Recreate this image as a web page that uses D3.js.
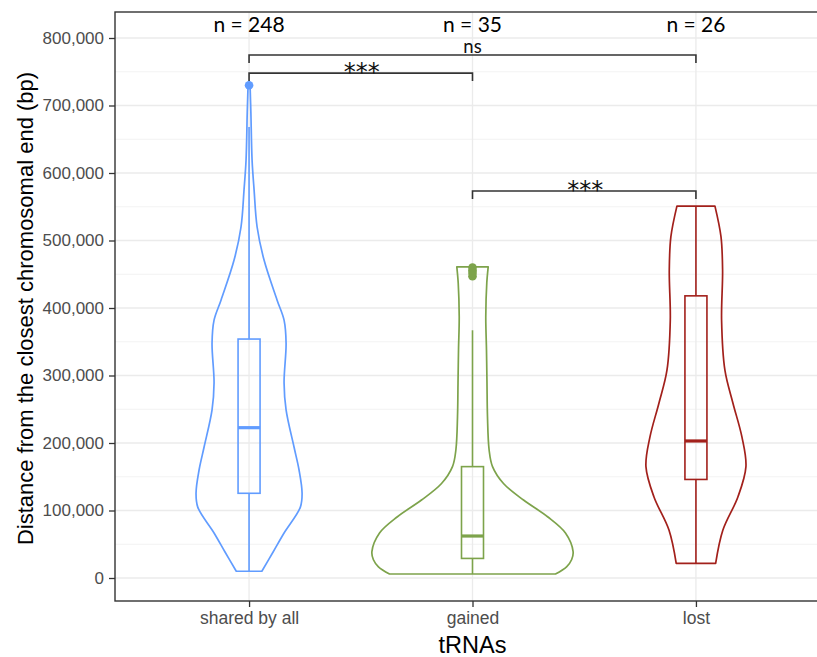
<!DOCTYPE html>
<html><head><meta charset="utf-8">
<script src="https://cdn.jsdelivr.net/npm/d3@7"></script>
<style>body{margin:0;background:#fff}svg{display:block}</style>
</head><body>
<svg id="c" width="817" height="657"></svg>
<script>
const categories = ["shared by all", "gained", "lost"];
const colors = ["#619CFF", "#7DA34B", "#A2201B"];
const nLabels = ["n = 248", "n = 35", "n = 26"];
const yTicks = [0, 100000, 200000, 300000, 400000, 500000, 600000, 700000, 800000];

// violin outlines: [value, relative density]
const densShared = [[10000,0.127],[38500,0.239],[66700,0.348],[105000,0.51],[126000,0.527],[160000,0.497],[194000,0.447],[249000,0.368],[289000,0.348],[348000,0.368],[382000,0.348],[412000,0.278],[471000,0.149],[520000,0.08],[575000,0.05],[619000,0.03],[690000,0.018],[730000,0.01]];
const densGained = [[5900,0.825],[16600,0.935],[27000,0.985],[39000,1.0],[66700,0.924],[90800,0.746],[115500,0.507],[140000,0.308],[165000,0.199],[190000,0.165],[239000,0.149],[289000,0.144],[338000,0.139],[387000,0.132],[437000,0.142],[461000,0.156]];
const densLost = [[21700,0.196],[71000,0.268],[120000,0.417],[165000,0.497],[209000,0.457],[259000,0.368],[308000,0.288],[382000,0.255],[456000,0.265],[505600,0.249],[551000,0.189]];
const densities = [densShared, densGained, densLost];

// box stats: [lowerWhisker, q1, median, q3, upperWhisker]
const boxShared = [10000, 125500, 222700, 354000, 668000];
const boxGained = [5900, 29000, 62200, 165000, 367000];
const boxLost = [21700, 146000, 203000, 418000, 551000];
const boxes = [boxShared, boxGained, boxLost];

const outShared = [730000];
const outGained = [447000, 452000, 456000, 460000];
const outLost = [];
const outliers = [outShared, outGained, outLost];

// significance brackets
const bracketFrom = [0, 0, 1];
const bracketTo = [1, 2, 2];
const bracketY = [748000, 774800, 573300];
const bracketLabels = ["***", "ns", "***"];
const nLabelY = 819000;

const svg = d3.select("#c");
const L = 115, R = 830, T = 12, B = 601;
const x = d3.scalePoint().domain(categories).range([L, R]).padding(0.6);
const y = d3.scaleLinear().domain([0, 800000]).range([578, 38]);
const w = d3.scaleLinear().domain([0, 1]).range([0, 100.6]);
const sans = "'Liberation Sans', Arial, sans-serif";

svg.append("rect").attr("x",0).attr("y",0).attr("width",817).attr("height",657).attr("fill","#fff");

const g = svg.append("g");
const minor = d3.range(-50000, 850000, 100000).filter(v => y(v) > T && y(v) < B);
g.selectAll(".mn").data(minor).join("line")
  .attr("x1", L).attr("x2", R).attr("y1", d=>y(d)).attr("y2", d=>y(d))
  .attr("stroke", "#f0f0f0").attr("stroke-width", 0.8);
g.selectAll(".mj").data(yTicks).join("line")
  .attr("x1", L).attr("x2", R).attr("y1", d=>y(d)).attr("y2", d=>y(d))
  .attr("stroke", "#ebebeb").attr("stroke-width", 1.3);
g.selectAll(".vx").data(categories).join("line")
  .attr("x1", d=>x(d)).attr("x2", d=>x(d)).attr("y1", T).attr("y2", B)
  .attr("stroke", "#ebebeb").attr("stroke-width", 1.3);

const area = d3.area().y(d => y(d[0])).curve(d3.curveCatmullRom.alpha(0.5));
categories.forEach((c, i) => {
  const cx = x(c);
  g.append("path")
    .attr("d", area.x0(d => cx - w(d[1])).x1(d => cx + w(d[1]))(densities[i]))
    .attr("fill", "none").attr("stroke", colors[i]).attr("stroke-width", 1.7)
    .attr("stroke-linejoin", "round");
  const b = boxes[i];
  const hw = 11;
  g.append("line").attr("x1", cx).attr("x2", cx).attr("y1", y(b[0])).attr("y2", y(b[1]))
    .attr("stroke", colors[i]).attr("stroke-width", 1.6);
  g.append("line").attr("x1", cx).attr("x2", cx).attr("y1", y(b[3])).attr("y2", y(b[4]))
    .attr("stroke", colors[i]).attr("stroke-width", 1.6);
  g.append("rect").attr("x", cx - hw).attr("width", 2*hw).attr("y", y(b[3])).attr("height", y(b[1]) - y(b[3]))
    .attr("fill", "none").attr("stroke", colors[i]).attr("stroke-width", 1.6);
  g.append("line").attr("x1", cx - hw).attr("x2", cx + hw).attr("y1", y(b[2])).attr("y2", y(b[2]))
    .attr("stroke", colors[i]).attr("stroke-width", 3.2);
  g.selectAll(null).data(outliers[i]).join("circle")
    .attr("cx", cx).attr("cy", d => y(d)).attr("r", 4.3).attr("fill", colors[i]);
});

const bf = "Lato, 'Open Sans', sans-serif";
bracketLabels.forEach((lab, i) => {
  const x1 = x(categories[bracketFrom[i]]), x2 = x(categories[bracketTo[i]]);
  const yy = y(bracketY[i]);
  g.append("path").attr("d", `M${x1},${yy+8}V${yy}H${x2}V${yy+8}`)
    .attr("fill", "none").attr("stroke", "#333").attr("stroke-width", 1.6);
  const mid = (x1 + x2) / 2;
  if (lab === "ns") {
    g.append("text").attr("x", mid).attr("y", yy - 2.5).attr("text-anchor", "middle")
      .attr("font-family", bf).attr("font-size", 18.5).attr("fill", "#111").text(lab);
  } else {
    g.append("text").attr("x", mid + 1).attr("y", yy + 6.5).attr("text-anchor", "middle")
      .attr("font-family", "'DejaVu Sans', sans-serif").attr("font-size", 24)
      .attr("fill", "#111").text(lab);
  }
});

g.selectAll(".nl").data(categories).join("text")
  .attr("x", d => x(d)).attr("y", y(nLabelY) + 6.8).attr("text-anchor", "middle")
  .attr("font-family", bf).attr("font-size", 21).attr("fill", "#000")
  .text((d, i) => nLabels[i]);

svg.append("rect").attr("x", L).attr("y", T).attr("width", R - L).attr("height", B - T)
  .attr("fill", "none").attr("stroke", "#333").attr("stroke-width", 1.4);

const fmt = d3.format(",");
const yAxis = svg.append("g").attr("transform", `translate(${L},0)`)
  .call(d3.axisLeft(y).tickValues(yTicks).tickFormat(fmt).tickSize(6).tickPadding(5));
yAxis.select(".domain").remove();
yAxis.selectAll("line").attr("stroke", "#333").attr("stroke-width", 1.3);
yAxis.selectAll("text").attr("font-family", sans).attr("font-size", 17).attr("fill", "#4d4d4d");

const xAxis = svg.append("g").attr("transform", `translate(0,${B})`)
  .call(d3.axisBottom(x).tickSize(6).tickPadding(5));
xAxis.select(".domain").remove();
xAxis.selectAll("line").attr("stroke", "#333").attr("stroke-width", 1.3);
xAxis.selectAll("text").attr("font-family", sans).attr("font-size", 17.5).attr("fill", "#4d4d4d");

svg.append("text").attr("x", x("gained")).attr("y", 653).attr("text-anchor", "middle")
  .attr("font-family", sans).attr("font-size", 23.5).attr("fill", "#000")
  .text("tRNAs");
svg.append("text").attr("transform", `translate(33,${(T+B)/2 + 2}) rotate(-90)`).attr("text-anchor", "middle")
  .attr("font-family", sans).attr("font-size", 22).attr("fill", "#000")
  .text("Distance from the closest chromosomal end (bp)");
</script>
</body></html>
